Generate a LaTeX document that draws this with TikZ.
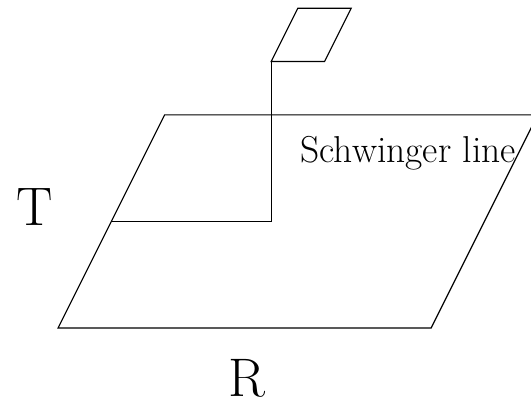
\documentclass[tikz,border=0pt]{standalone}
\usetikzlibrary{calc}
\tikzset{
  plane/.style={semithick},
  wline/.style={semithick},
  biglabel/.style={font=\fontsize{29pt}{35pt}\selectfont, inner sep=0pt, anchor=base},
  linelabel/.style={font=\fontsize{20pt}{24pt}\selectfont, inner sep=0pt, anchor=base},
}
\begin{document}
\begin{tikzpicture}
\useasboundingbox (-1.088,-1.445) rectangle (8.874,6.154);
% big plane
\coordinate (a) at (0,0);
\coordinate (b) at (7,0);
\coordinate (c) at (9,4);
\coordinate (d) at (2,4);
\draw[plane] (a) -- (b) -- (c) -- (d) -- cycle;
% small plane on top
\coordinate (sa) at (4,5);
\coordinate (sb) at (5,5);
\coordinate (sc) at (5.5,6);
\coordinate (sd) at (4.5,6);
\draw[plane] (sa) -- (sb) -- (sc) -- (sd) -- cycle;
% the line
\coordinate (start) at (1,2);
\coordinate (corner) at (4,2);
\draw[wline] (start) -- (corner) -- (sa);
\node[linelabel] (sch) at (6.57,3.11) {Schwinger line};
\node[biglabel] (tlab) at (-0.44,1.92) {T};
\node[biglabel] (rlab) at (3.54,-1.29) {R};
\end{tikzpicture}
\end{document}
